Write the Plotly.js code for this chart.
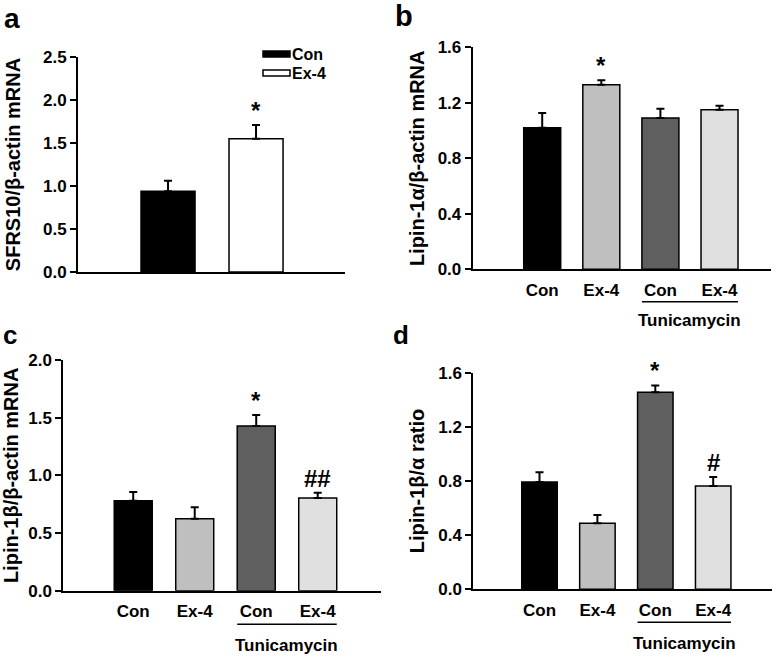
<!DOCTYPE html>
<html>
<head>
<meta charset="utf-8">
<script src="https://cdn.plot.ly/plotly-3.0.1.min.js"></script>
<style>html,body{margin:0;padding:0;background:#fff;}#chart{width:782px;height:657px;}</style>
</head>
<body>
<div id="chart"></div>
<script>
// ---------- data ----------
// Panel a
const aCategories = ['Con', 'Ex-4'];
const aValues = [0.94, 1.55];
const aErrors = [0.12, 0.16];
const aSig = ['', '*'];
const aTitle = 'SFRS10/β-actin mRNA';

// Panels b, c, d share the same groups
const groupLabels = ['Con', 'Ex-4', 'Con', 'Ex-4'];
const treatment = ['', '', 'Tunicamycin', 'Tunicamycin'];

const bValues = [1.02, 1.33, 1.09, 1.15];
const bErrors = [0.107, 0.033, 0.067, 0.029];
const bSig = ['', '*', '', ''];
const bTitle = 'Lipin-1α/β-actin mRNA';

const cValues = [0.78, 0.624, 1.428, 0.804];
const cErrors = [0.076, 0.099, 0.096, 0.046];
const cSig = ['', '', '*', '##'];
const cTitle = 'Lipin-1β/β-actin mRNA';

const dValues = [0.792, 0.487, 1.455, 0.763];
const dErrors = [0.072, 0.062, 0.051, 0.066];
const dSig = ['', '', '*', '#'];
const dTitle = 'Lipin-1β/α ratio';

// ---------- styling / geometry ----------
const W = 782, H = 657;
const px = x => x / W;
const py = y => 1 - y / H;
const FONT = 'Liberation Sans, Arial, sans-serif';
const barColors = ['#000000', '#bfbfbf', '#5f5f5f', '#e0e0e0'];
const aColors = ['#000000', '#ffffff'];

const geo = {
  a: {x0: 78, x1: 345, yTop: 57, yBot: 272, xr: [-1.023, 2.011], w: 0.614, yr: [0, 2.5], dt: 0.5, standoff: 16.5, lineY: null, textY: null},
  b: {x0: 472.7, x1: 770.7, yTop: 47.3, yBot: 269.3, xr: [-1.176, 3.866], w: 0.626, yr: [0, 1.6], dt: 0.4, standoff: 8, lineY: 301.7, textY: 320},
  c: {x0: 63.3, x1: 381, yTop: 360, yBot: 590.7, xr: [-1.137, 4.029], w: 0.618, yr: [0, 2.0], dt: 0.5, standoff: 14, lineY: 624.3, textY: 645},
  d: {x0: 473.3, x1: 771.7, yTop: 372.7, yBot: 589.3, xr: [-1.143, 4.01], w: 0.613, yr: [0, 1.6], dt: 0.4, standoff: 8, lineY: 622.3, textY: 643.3}
};

const errStyle = (arr) => ({type: 'data', symmetric: false, array: arr, arrayminus: arr.map(() => 0),
  color: '#000', thickness: 2, width: 4, visible: true});

const traces = [];
// Panel a: two traces
aCategories.forEach((cat, i) => {
  traces.push({
    type: 'bar', name: cat, x: [cat], y: [aValues[i]],
    xaxis: 'x', yaxis: 'y', width: geo.a.w,
    marker: {color: aColors[i], line: {color: '#000', width: 1.5}},
    error_y: errStyle([aErrors[i]]), showlegend: false, hoverinfo: 'x+y'
  });
});

const panels = [
  {key: 'b', ax: 2, values: bValues, errors: bErrors, sig: bSig, title: bTitle},
  {key: 'c', ax: 3, values: cValues, errors: cErrors, sig: cSig, title: cTitle},
  {key: 'd', ax: 4, values: dValues, errors: dErrors, sig: dSig, title: dTitle}
];
const idx = groupLabels.map((_, i) => i);
panels.forEach(p => {
  traces.push({
    type: 'bar', x: idx, y: p.values, xaxis: 'x' + p.ax, yaxis: 'y' + p.ax,
    width: geo[p.key].w,
    marker: {color: barColors, line: {color: '#000', width: 1.5}},
    error_y: errStyle(p.errors), showlegend: false, hoverinfo: 'y'
  });
});

const tickFont = {family: FONT, size: 17, color: '#000', weight: 'bold'};
const titleFont = {family: FONT, size: 20, color: '#000', weight: 'bold'};

function yAxis(g, title, anchor) {
  return {
    domain: [py(g.yBot), py(g.yTop)], range: g.yr, dtick: g.dt, tick0: 0, tickformat: '.1f',
    showline: true, linewidth: 2, linecolor: '#000', ticks: 'outside', ticklen: 6, tickwidth: 2, tickcolor: '#000',
    showgrid: false, zeroline: false, tickfont: tickFont, anchor: anchor, automargin: false,
    title: {text: title, font: titleFont, standoff: g.standoff}
  };
}
function xAxis(g, anchor, labels) {
  const ax = {
    domain: [px(g.x0), px(g.x1)], range: g.xr, anchor: anchor,
    showline: true, linewidth: 2, linecolor: '#000', ticks: '', showgrid: false, zeroline: false,
    tickfont: tickFont, automargin: false, ticklabelstandoff: 4
  };
  if (labels) {
    ax.tickmode = 'array'; ax.tickvals = idx; ax.ticktext = labels;
  } else {
    ax.showticklabels = false; ax.type = 'category';
  }
  return ax;
}

const layout = {
  width: W, height: H, margin: {l: 0, r: 0, t: 0, b: 0},
  paper_bgcolor: '#fff', plot_bgcolor: 'rgba(0,0,0,0)',
  barmode: 'overlay', showlegend: false,
  font: {family: FONT, color: '#000'},
  xaxis: xAxis(geo.a, 'y', null), yaxis: yAxis(geo.a, aTitle, 'x'),
  xaxis2: xAxis(geo.b, 'y2', groupLabels), yaxis2: yAxis(geo.b, bTitle, 'x2'),
  xaxis3: xAxis(geo.c, 'y3', groupLabels), yaxis3: yAxis(geo.c, cTitle, 'x3'),
  xaxis4: xAxis(geo.d, 'y4', groupLabels), yaxis4: yAxis(geo.d, dTitle, 'x4'),
  shapes: [], annotations: []
};

const sigFont = {family: FONT, size: 24, color: '#000', weight: 'bold'};
// significance marks
aSig.forEach((s, i) => {
  if (s) layout.annotations.push({xref: 'x', yref: 'y', x: aCategories[i], y: aValues[i] + aErrors[i],
    text: s, showarrow: false, yanchor: 'bottom', font: sigFont, borderpad: 0});
});
panels.forEach(p => {
  p.sig.forEach((s, i) => {
    if (s) layout.annotations.push({xref: 'x' + p.ax, yref: 'y' + p.ax, x: i, y: p.values[i] + p.errors[i],
      text: s, showarrow: false, yanchor: 'bottom', font: sigFont, borderpad: 0});
  });
  // Tunicamycin bracket
  const g = geo[p.key];
  const tIdx = idx.filter(i => treatment[i] === 'Tunicamycin');
  const first = Math.min(...tIdx), last = Math.max(...tIdx);
  layout.shapes.push({type: 'line', xref: 'x' + p.ax, yref: 'paper',
    x0: first - g.w / 2, x1: last + g.w / 2, y0: py(g.lineY), y1: py(g.lineY),
    line: {color: '#000', width: 1.5}});
  layout.annotations.push({xref: 'x' + p.ax, yref: 'paper', x: (first + last) / 2, y: py(g.textY),
    text: 'Tunicamycin', showarrow: false, yanchor: 'middle', xanchor: 'center', font: tickFont, borderpad: 0});
});

// legend for panel a
const legY = [54, 73];
aCategories.forEach((cat, i) => {
  layout.shapes.push({type: 'rect', xref: 'paper', yref: 'paper',
    x0: px(263), x1: px(290), y0: py(legY[i] - 3), y1: py(legY[i] + 3),
    fillcolor: aColors[i], line: {color: '#000', width: 1.5}});
  layout.annotations.push({xref: 'paper', yref: 'paper', x: px(291), y: py(legY[i]), text: cat,
    showarrow: false, xanchor: 'left', yanchor: 'middle', borderpad: 0,
    font: {family: FONT, size: 16, color: '#000', weight: 'bold'}});
});

// panel letters
const letters = [
  {t: 'a', x: 12, y: 19, s: 28},
  {t: 'b', x: 404, y: 16, s: 29},
  {t: 'c', x: 10, y: 335, s: 26},
  {t: 'd', x: 401, y: 335, s: 26}
];
letters.forEach(L => layout.annotations.push({xref: 'paper', yref: 'paper', x: px(L.x), y: py(L.y), text: L.t,
  showarrow: false, xanchor: 'center', yanchor: 'middle', borderpad: 0,
  font: {family: FONT, size: L.s, color: '#000', weight: 'bold'}}));

Plotly.newPlot('chart', traces, layout, {staticPlot: true, displayModeBar: false});
</script>
</body>
</html>
